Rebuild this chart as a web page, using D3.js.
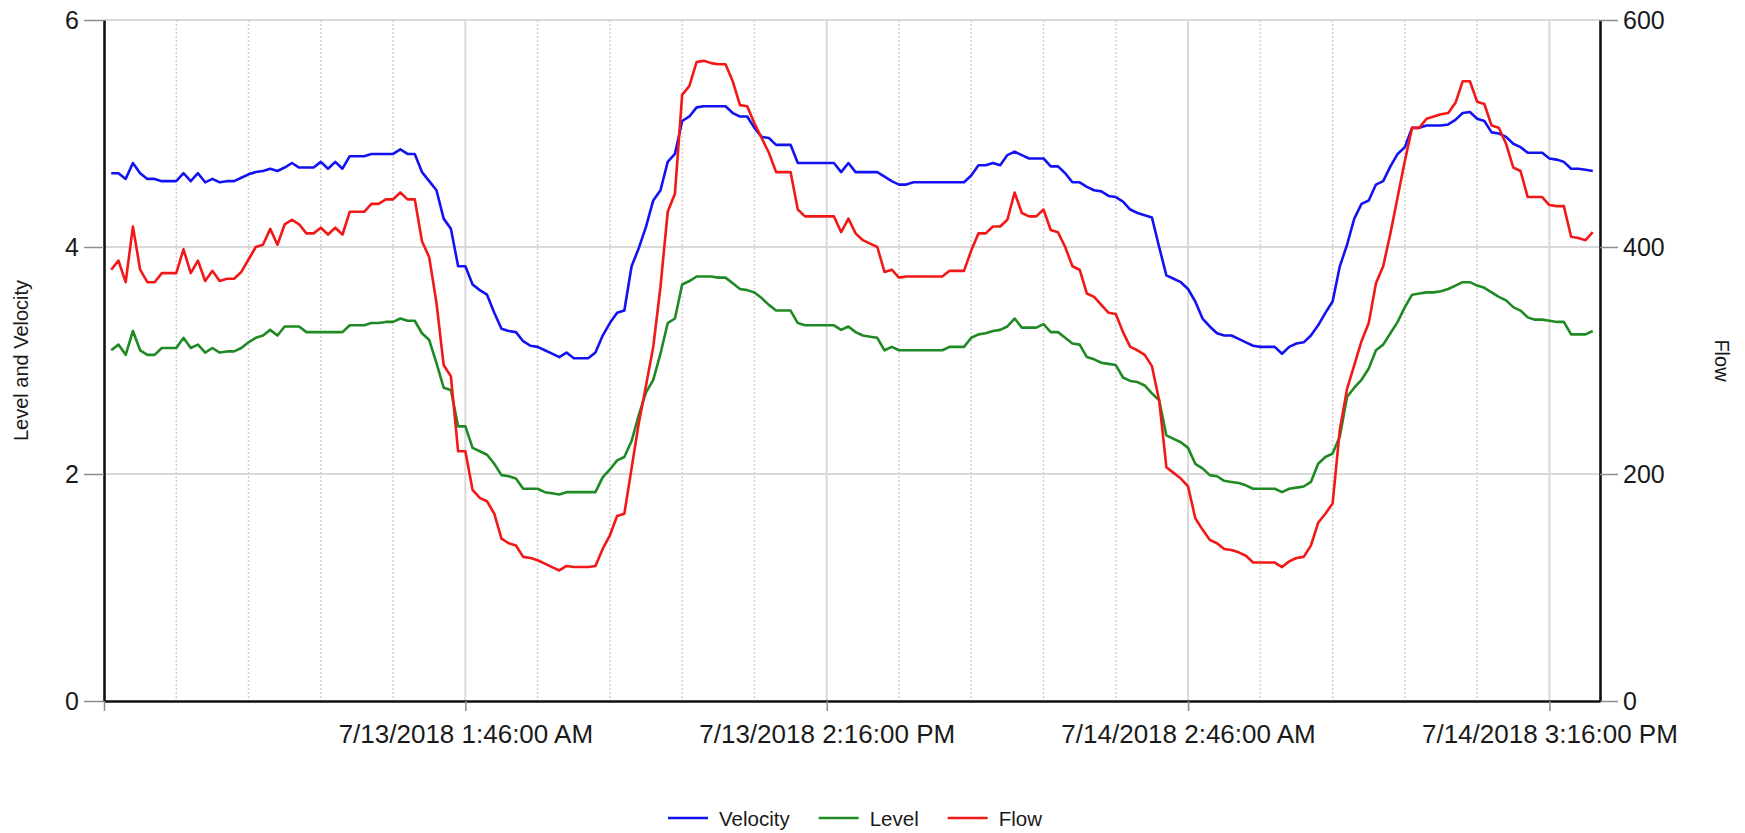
<!DOCTYPE html>
<html>
<head>
<meta charset="utf-8">
<script src="https://cdn.jsdelivr.net/npm/d3@7"></script>
<style>
  html, body { margin: 0; padding: 0; background: #fff; }
  svg { display: block; font-family: "Liberation Sans", Arial, sans-serif; }
</style>
</head>
<body>
<svg id="chart" width="1745" height="833"></svg>
<script>
// Sampling: one reading every 15 minutes
const startTime = "7/12/2018 1:31:00 PM";
const stepMinutes = 15;

const seriesNames = ["Velocity", "Level", "Flow"];
const seriesColors = ["#1212f2", "#1f8a24", "#f21818"];

const velocity = [
  4.65, 4.65, 4.60, 4.74, 4.65, 4.60, 4.60, 4.58, 4.58, 4.58,
  4.65, 4.58, 4.65, 4.57, 4.60, 4.57, 4.58, 4.58, 4.61, 4.64,
  4.66, 4.67, 4.69, 4.67, 4.70, 4.74, 4.70, 4.70, 4.70, 4.75,
  4.69, 4.75, 4.69, 4.80, 4.80, 4.80, 4.82, 4.82, 4.82, 4.82,
  4.86, 4.82, 4.82, 4.66, 4.58, 4.50, 4.25, 4.16, 3.83, 3.83,
  3.67, 3.62, 3.58, 3.42, 3.28, 3.26, 3.25, 3.17, 3.13, 3.12,
  3.09, 3.06, 3.03, 3.07, 3.02, 3.02, 3.02, 3.07, 3.22, 3.33,
  3.42, 3.44, 3.83, 3.99, 4.18, 4.41, 4.50, 4.75, 4.82, 5.11,
  5.15, 5.23, 5.24, 5.24, 5.24, 5.24, 5.18, 5.15, 5.15, 5.05,
  4.97, 4.96, 4.90, 4.90, 4.90, 4.74, 4.74, 4.74, 4.74, 4.74,
  4.74, 4.66, 4.74, 4.66, 4.66, 4.66, 4.66, 4.62, 4.58, 4.55,
  4.55, 4.57, 4.57, 4.57, 4.57, 4.57, 4.57, 4.57, 4.57, 4.63,
  4.72, 4.72, 4.74, 4.72, 4.81, 4.84, 4.81, 4.78, 4.78, 4.78,
  4.71, 4.71, 4.65, 4.57, 4.57, 4.53, 4.50, 4.49, 4.45, 4.44,
  4.40, 4.33, 4.30, 4.28, 4.26, 4.00, 3.75, 3.72, 3.69, 3.63,
  3.52, 3.37, 3.30, 3.24, 3.22, 3.22, 3.19, 3.16, 3.13, 3.12,
  3.12, 3.12, 3.06, 3.12, 3.15, 3.16, 3.22, 3.31, 3.42, 3.52,
  3.83, 4.02, 4.25, 4.38, 4.41, 4.55, 4.58, 4.71, 4.82, 4.88,
  5.05, 5.05, 5.07, 5.07, 5.07, 5.08, 5.12, 5.18, 5.19, 5.13,
  5.11, 5.01, 5.00, 4.97, 4.91, 4.88, 4.83, 4.83, 4.83, 4.78,
  4.77, 4.75, 4.69, 4.69, 4.68, 4.67
];

const level = [
  3.09, 3.14, 3.05, 3.26, 3.09, 3.05, 3.05, 3.11, 3.11, 3.11,
  3.20, 3.11, 3.14, 3.07, 3.11, 3.07, 3.08, 3.08, 3.11, 3.16,
  3.20, 3.22, 3.27, 3.22, 3.30, 3.30, 3.30, 3.25, 3.25, 3.25,
  3.25, 3.25, 3.25, 3.31, 3.31, 3.31, 3.33, 3.33, 3.34, 3.34,
  3.37, 3.35, 3.35, 3.24, 3.18, 2.98, 2.76, 2.74, 2.42, 2.42,
  2.23, 2.20, 2.17, 2.09, 1.99, 1.98, 1.96, 1.87, 1.87, 1.87,
  1.84, 1.83, 1.82, 1.84, 1.84, 1.84, 1.84, 1.84, 1.97, 2.04,
  2.12, 2.15, 2.29, 2.52, 2.72, 2.83, 3.06, 3.33, 3.37, 3.67,
  3.70, 3.74, 3.74, 3.74, 3.73, 3.73, 3.68, 3.63, 3.62, 3.60,
  3.55, 3.49, 3.44, 3.44, 3.44, 3.33, 3.31, 3.31, 3.31, 3.31,
  3.31, 3.27, 3.30, 3.25, 3.22, 3.21, 3.20, 3.09, 3.12, 3.09,
  3.09, 3.09, 3.09, 3.09, 3.09, 3.09, 3.12, 3.12, 3.12, 3.20,
  3.23, 3.24, 3.26, 3.27, 3.30, 3.37, 3.29, 3.29, 3.29, 3.32,
  3.25, 3.25, 3.20, 3.15, 3.14, 3.03, 3.01, 2.98, 2.97, 2.96,
  2.85, 2.82, 2.81, 2.78, 2.71, 2.65, 2.34, 2.31, 2.28, 2.23,
  2.09, 2.05, 1.99, 1.98, 1.94, 1.93, 1.92, 1.90, 1.87, 1.87,
  1.87, 1.87, 1.84, 1.87, 1.88, 1.89, 1.93, 2.09, 2.15, 2.18,
  2.33, 2.68, 2.76, 2.83, 2.93, 3.09, 3.14, 3.24, 3.34, 3.47,
  3.58, 3.59, 3.60, 3.60, 3.61, 3.63, 3.66, 3.69, 3.69, 3.66,
  3.64, 3.60, 3.56, 3.53, 3.47, 3.44, 3.38, 3.36, 3.36, 3.35,
  3.34, 3.34, 3.23, 3.23, 3.23, 3.26
];

const flow = [
  380, 388, 369, 418, 380, 369, 369, 377, 377, 377,
  398, 377, 388, 370, 379, 370, 372, 372, 378, 389,
  400, 402, 416, 402, 420, 424, 420, 412, 412, 417,
  411, 417, 411, 431, 431, 431, 438, 438, 442, 442,
  448, 442, 442, 405, 391, 351, 296, 286, 220, 220,
  186, 179, 176, 165, 143, 139, 137, 127, 126, 124,
  121, 118, 115, 119, 118, 118, 118, 119, 134, 146,
  163, 165, 205, 245, 278, 312, 365, 431, 447, 534,
  542, 563, 564, 562, 561, 561, 546, 525, 524, 509,
  496, 483, 466, 466, 466, 433, 427, 427, 427, 427,
  427, 413, 425, 412, 406, 403, 400, 378, 380, 373,
  374, 374, 374, 374, 374, 374, 379, 379, 379, 397,
  412, 412, 418, 418, 424, 448, 430, 427, 427, 433,
  415, 413, 400, 383, 380, 359, 356, 349, 342, 341,
  325, 312, 309, 305, 295, 265, 206, 201, 196, 189,
  161, 151, 142, 139, 134, 133, 131, 128, 122, 122,
  122, 122, 118, 123, 126, 127, 137, 157, 165, 174,
  239, 275, 296, 317, 333, 368, 383, 412, 444, 476,
  505, 505, 513, 515, 517, 518, 527, 546, 546, 528,
  526, 507, 505, 491, 470, 467, 444, 444, 444, 437,
  436, 436, 409, 408, 406, 413
];

const xTickLabels = [
  "7/13/2018 1:46:00 AM",
  "7/13/2018 2:16:00 PM",
  "7/14/2018 2:46:00 AM",
  "7/14/2018 3:16:00 PM"
];
const leftTicks = [0, 2, 4, 6];
const rightTicks = [0, 200, 400, 600];
const leftTitle = "Level and Velocity";
const rightTitle = "Flow";
const gridStepMinutes = 150;

// ---- layout ----
const W = 1745, H = 833;
const plot = { left: 104, right: 1600, top: 20, bottom: 701 };

const parseTime = d3.timeParse("%-m/%-d/%Y %-I:%M:%S %p");
const t0 = parseTime(startTime);
const minute = 60 * 1000;
const times = velocity.map((_, i) => new Date(t0.getTime() + i * stepMinutes * minute));
const majorDates = xTickLabels.map(parseTime);

const x = d3.scaleTime()
  .domain([new Date(times[0].getTime() - stepMinutes * minute),
           new Date(times[times.length - 1].getTime() + stepMinutes * minute)])
  .range([plot.left, plot.right]);
const yL = d3.scaleLinear().domain([0, 6]).range([plot.bottom, plot.top]);
const yR = d3.scaleLinear().domain([0, 600]).range([plot.bottom, plot.top]);

const svg = d3.select("#chart");
svg.append("rect").attr("width", W).attr("height", H).attr("fill", "#fff");

// ---- gridlines ----
const grid = svg.append("g");
grid.selectAll("line.h").data(leftTicks.filter(v => v > 0)).join("line")
  .attr("x1", plot.left).attr("x2", plot.right)
  .attr("y1", d => yL(d)).attr("y2", d => yL(d))
  .attr("stroke", "#d9d9d9").attr("stroke-width", 2);

const d0 = x.domain()[0].getTime(), d1 = x.domain()[1].getTime();
const majorSet = new Set(majorDates.map(d => d.getTime()));
const minorDates = d3.range(d0 + gridStepMinutes * minute, d1, gridStepMinutes * minute)
  .filter(t => !majorSet.has(t)).map(t => new Date(t));

grid.selectAll("line.minor").data(minorDates).join("line")
  .attr("x1", d => x(d)).attr("x2", d => x(d))
  .attr("y1", plot.top).attr("y2", plot.bottom)
  .attr("stroke", "#cfcfcf").attr("stroke-width", 1.5)
  .attr("stroke-dasharray", "2,2");

grid.selectAll("line.major").data(majorDates).join("line")
  .attr("x1", d => x(d)).attr("x2", d => x(d))
  .attr("y1", plot.top).attr("y2", plot.bottom)
  .attr("stroke", "#d9d9d9").attr("stroke-width", 2);

// ---- series ----
const series = [
  { name: seriesNames[0], color: seriesColors[0], values: velocity, y: yL },
  { name: seriesNames[1], color: seriesColors[1], values: level, y: yL },
  { name: seriesNames[2], color: seriesColors[2], values: flow, y: yR }
];
series.forEach(s => {
  const line = d3.line().x((d, i) => x(times[i])).y(d => s.y(d));
  svg.append("path").datum(s.values)
    .attr("d", line)
    .attr("fill", "none")
    .attr("stroke", s.color)
    .attr("stroke-width", 2.6)
    .attr("stroke-linejoin", "round");
});

// ---- axes ----
function styleAxis(g, fontSize) {
  g.select(".domain").attr("stroke", "#111").attr("stroke-width", 2.6);
  g.selectAll(".tick line").attr("stroke", "#8c8c8c").attr("stroke-width", 1.5);
  g.selectAll(".tick text").attr("fill", "#1a1a1a")
    .style("font-size", fontSize + "px")
    .style("font-family", '"Liberation Sans", Arial, sans-serif');
}

const axL = svg.append("g").attr("transform", `translate(${plot.left},0)`)
  .call(d3.axisLeft(yL).tickValues(leftTicks).tickFormat(d3.format("d"))
    .tickSize(20).tickSizeOuter(0).tickPadding(5));
styleAxis(axL, 25);

const axR = svg.append("g").attr("transform", `translate(${plot.right},0)`)
  .call(d3.axisRight(yR).tickValues(rightTicks).tickFormat(d3.format("d"))
    .tickSize(18).tickSizeOuter(0).tickPadding(5));
styleAxis(axR, 25);

const bottomTicks = [x.domain()[0]].concat(majorDates);
const axB = svg.append("g").attr("transform", `translate(0,${plot.bottom})`)
  .call(d3.axisBottom(x).tickValues(bottomTicks)
    .tickFormat((d, i) => i === 0 ? "" : xTickLabels[i - 1])
    .tickSize(10).tickSizeOuter(0).tickPadding(14));
styleAxis(axB, 26);

// ---- axis titles ----
svg.append("text")
  .attr("transform", `translate(21,${(plot.top + plot.bottom) / 2}) rotate(-90)`)
  .attr("text-anchor", "middle").attr("dominant-baseline", "central")
  .style("font-size", "20px").attr("fill", "#1a1a1a")
  .text(leftTitle);

svg.append("text")
  .attr("transform", `translate(1722,${(plot.top + plot.bottom) / 2}) rotate(90)`)
  .attr("text-anchor", "middle").attr("dominant-baseline", "central")
  .style("font-size", "20px").attr("fill", "#1a1a1a")
  .text(rightTitle);

// ---- legend ----
const legend = svg.append("g");
const legendY = 818, lineLen = 40, textGap = 11, itemGap = 29;
let cx = 0;
series.forEach(s => {
  const g = legend.append("g").attr("transform", `translate(${cx},0)`);
  g.append("line").attr("x1", 0).attr("x2", lineLen)
    .attr("y1", legendY).attr("y2", legendY)
    .attr("stroke", s.color).attr("stroke-width", 2.6);
  const t = g.append("text").attr("x", lineLen + textGap).attr("y", legendY)
    .attr("dominant-baseline", "central")
    .style("font-size", "20.5px").attr("fill", "#1a1a1a").text(s.name);
  const w = t.node().getComputedTextLength();
  cx += lineLen + textGap + w + itemGap;
});
const totalW = cx - itemGap;
legend.attr("transform", `translate(${(plot.left + plot.right) / 2 - totalW / 2 + 3},0)`);
</script>
</body>
</html>
